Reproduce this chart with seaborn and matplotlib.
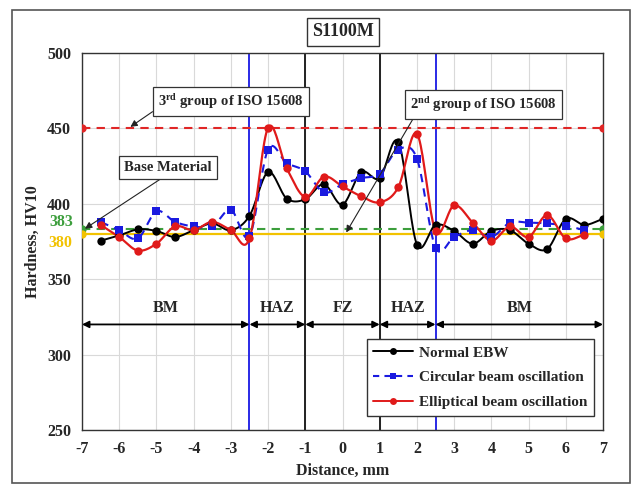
import numpy as np
import pandas as pd
import matplotlib
matplotlib.use("Agg")
import matplotlib.pyplot as plt
from matplotlib.patches import Rectangle
from matplotlib.lines import Line2D
import seaborn as sns

sns.set_theme(style="whitegrid")
plt.rcParams['font.family'] = ['Liberation Serif', 'DejaVu Serif']
plt.rcParams['font.weight'] = 'bold'
plt.rcParams['axes.unicode_minus'] = False
plt.rcParams['mathtext.fontset'] = 'custom'
plt.rcParams['mathtext.rm'] = 'Liberation Serif:bold'
plt.rcParams['mathtext.it'] = 'Liberation Serif:bold'
plt.rcParams['mathtext.bf'] = 'Liberation Serif:bold'

# ---- data ----
x_normal = [-6.5, -6, -5.5, -5, -4.5, -4, -3.5, -3, -2.5, -2, -1.5, -1, -0.5, 0,
            0.5, 1, 1.5, 2, 2.5, 3, 3.5, 4, 4.5, 5, 5.5, 6, 6.5, 7]
hv_normal = [375.5, 379, 383, 382, 378, 382.5, 387, 382.5, 392, 421, 403.5, 403, 413, 399.5,
             421, 417, 441, 373, 386, 382, 373.5, 382, 382.5, 373.5, 370, 390, 386, 390]

x_osc = [-6.5, -6, -5.5, -5, -4.5, -4, -3.5, -3, -2.5, -2, -1.5, -1, -0.5, 0,
         0.5, 1, 1.5, 2, 2.5, 3, 3.5, 4, 4.5, 5, 5.5, 6, 6.5]
hv_circular = [388, 382.5, 377, 395, 388, 385, 385, 396, 378.5, 436, 427, 421.5, 407.5, 413,
               417, 420, 436, 430, 371, 378, 382.5, 378, 387.5, 387.5, 387, 385.5, 382.5]
hv_elliptical = [386, 378, 369, 373.5, 385, 382.5, 388, 382.5, 377, 450.5, 423.5, 404.5, 418, 411.5,
                 405, 401, 411, 446.5, 382, 399, 387.5, 375.5, 385, 378, 392.5, 377, 379.5]

limit_group3 = 450
limit_base = 383
limit_group2 = 380
x_limits = [-7, 7]

zone_bounds = [-7, -2.5, -1, 1, 2.5, 7]
zone_labels = ["BM", "HAZ", "FZ", "HAZ", "BM"]
x_ticks = list(range(-7, 8))
y_ticks = [250, 300, 350, 400, 450, 500]

series_names = ['Normal EBW', 'Circular beam oscillation', 'Elliptical beam oscillation']


def smooth(xs, ys, n=20):
    """Catmull-Rom smoothing of the drawn line (like Excel's smoothed line)."""
    xs = np.asarray(xs, float); ys = np.asarray(ys, float)
    P = np.column_stack([xs, ys])
    P = np.vstack([P[0] - (P[1] - P[0]), P, P[-1] + (P[-1] - P[-2])])
    out = []
    for i in range(1, len(P) - 2):
        p0, p1, p2, p3 = P[i - 1], P[i], P[i + 1], P[i + 2]
        t = np.linspace(0, 1, n, endpoint=False)[:, None]
        c = 0.5 * ((2 * p1) + (-p0 + p2) * t + (2 * p0 - 5 * p1 + 4 * p2 - p3) * t ** 2
                   + (-p0 + 3 * p1 - 3 * p2 + p3) * t ** 3)
        out.append(c)
    out.append(P[-2][None, :])
    out = np.vstack(out)
    return out[:, 0], out[:, 1]


fig = plt.figure(figsize=(6.33, 4.84), dpi=100)
ax = fig.add_axes([82 / 633, 1 - 430 / 484, (603 - 82) / 633, (430 - 53) / 484])
ax.set_facecolor('white')

# outer frame
fig.patches.append(Rectangle((12 / 633, 1 / 484), 618 / 633, 473 / 484, transform=fig.transFigure,
                             fill=False, edgecolor='#555555', lw=1.2))

# vertical zone lines
for xv, col in [(-2.5, '#2a2ae6'), (2.5, '#2a2ae6'), (-1, '#222222'), (1, '#222222')]:
    ax.axvline(xv, color=col, lw=1.4, zorder=2)

# limit lines
sns.lineplot(x=x_limits, y=[limit_group3] * 2, ax=ax, color='#e02626', lw=1.5,
             marker='o', markersize=6, markeredgewidth=0, zorder=3)
ax.lines[-1].set_dashes((4, 3))
sns.lineplot(x=x_limits, y=[limit_base] * 2, ax=ax, color='#3c9e3c', lw=1.5,
             marker='o', markersize=6, markeredgewidth=0, zorder=3)
ax.lines[-1].set_dashes((4, 3))
sns.lineplot(x=x_limits, y=[limit_group2] * 2, ax=ax, color='#f2c200', lw=1.6,
             marker='o', markersize=6, markeredgewidth=0, zorder=3)

# series: smoothed lines + markers
styles = [(x_normal, hv_normal, 'black', 'o', None, 1.4),
          (x_osc, hv_circular, '#1a1ae0', 's', (4, 3), 1.5),
          (x_osc, hv_elliptical, '#e01a1a', 'o', None, 1.6)]
for xs, ys, col, mk, dash, lw in styles:
    sx, sy = smooth(xs, ys)
    sns.lineplot(x=sx, y=sy, ax=ax, color=col, lw=lw, zorder=5, sort=False, estimator=None)
    if dash:
        ax.lines[-1].set_dashes(dash)
    sns.scatterplot(x=xs, y=ys, ax=ax, color=col, marker=mk, s=36, linewidth=0, zorder=6)

ax.set_xlim(-7, 7)
ax.set_ylim(250, 500)
ax.set_xticks(x_ticks)
ax.set_yticks(y_ticks)
ax.grid(True, color='#d9d9d9', lw=0.8)
ax.set_axisbelow(True)
for s in ax.spines.values():
    s.set_color('#333333'); s.set_linewidth(1.0)
ax.tick_params(axis='both', labelsize=11.5, length=0, pad=8)
for lab in ax.get_xticklabels() + ax.get_yticklabels():
    lab.set_fontweight('bold')
ax.set_xlabel('Distance, mm', fontsize=11.5, fontweight='bold', labelpad=4)
ax.set_ylabel('Hardness, HV10', fontsize=11.5, fontweight='bold', labelpad=4)

# colored labels for limits
ax.text(-7.25, limit_base + 5, '383', color='#3c9e3c', fontsize=11.5, fontweight='bold',
        ha='right', va='center', clip_on=False)
ax.text(-7.25, limit_group2 - 6, '380', color='#f2c200', fontsize=11.5, fontweight='bold',
        ha='right', va='center', clip_on=False)

# zone labels and arrows
for i, lab in enumerate(zone_labels):
    a, b = zone_bounds[i], zone_bounds[i + 1]
    ax.annotate('', xy=(a, 320), xytext=(b, 320),
                arrowprops=dict(arrowstyle='<|-|>', color='black', lw=1.3,
                                mutation_scale=10, shrinkA=0, shrinkB=0), zorder=4)
    ax.text((a + b) / 2, 331, lab, ha='center', va='center', fontsize=11.5, fontweight='bold')

box = dict(boxstyle='square,pad=0.35', fc='white', ec='#333333', lw=0.9)
arr = dict(arrowstyle='-|>', color='#222222', lw=0.8, mutation_scale=10, shrinkA=0, shrinkB=0)
ax.annotate(r'3$^{\rm rd}$ group of ISO 15608', xy=(-5.7, 451), xytext=(-3.0, 468),
            ha='center', va='center', fontsize=10.5, fontweight='bold', bbox=box,
            arrowprops=dict(arr, relpos=(0.0, 0.15)), zorder=8)
ax.annotate(r'2$^{\rm nd}$ group of ISO 15608', xy=(0.1, 381), xytext=(3.78, 466),
            ha='center', va='center', fontsize=10.5, fontweight='bold', bbox=box,
            arrowprops=dict(arr, relpos=(0.05, 0.1)), zorder=8)
ax.annotate('Base Material', xy=(-6.92, 383.5), xytext=(-4.69, 424),
            ha='center', va='center', fontsize=10.5, fontweight='bold', bbox=box,
            arrowprops=dict(arr, relpos=(0.5, 0.0)), zorder=8)

# legend
handles = [Line2D([], [], color='black', lw=1.4, marker='o', markersize=5, markeredgewidth=0),
           Line2D([], [], color='#1a1ae0', lw=1.5, ls=(0, (3, 2.5)), marker='s', markersize=5,
                  markeredgewidth=0),
           Line2D([], [], color='#e01a1a', lw=1.4, marker='o', markersize=5, markeredgewidth=0)]
leg = ax.legend(handles, series_names,
                loc='lower right', bbox_to_anchor=(0.997, 0.017), fancybox=False, framealpha=1,
                edgecolor='#333333', prop={'family': 'Liberation Serif', 'weight': 'bold', 'size': 11},
                handlelength=2.6, borderpad=0.45, labelspacing=0.72, handletextpad=0.35)
leg.get_frame().set_linewidth(1.0)
leg.set_zorder(10)

# title box
fig.text(343 / 633, 1 - 32 / 484, 'S1100M', ha='center', va='center', fontsize=13,
         fontweight='bold', bbox=dict(boxstyle='square,pad=0.3', fc='white', ec='#333333', lw=1.0))

fig.savefig('out.png', dpi=100, facecolor='white')
